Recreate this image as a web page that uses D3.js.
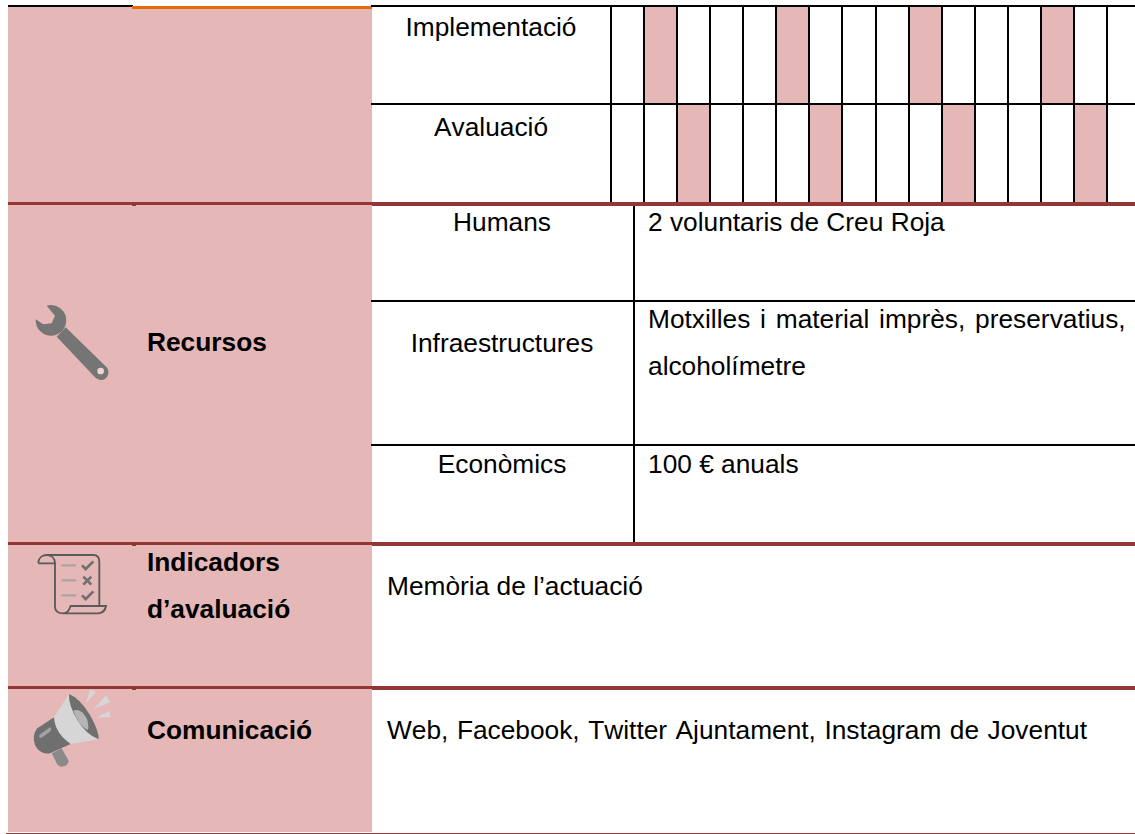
<!DOCTYPE html>
<html>
<head>
<meta charset="utf-8">
<script src="https://cdn.jsdelivr.net/npm/d3@7"></script>
<style>
  html, body { margin: 0; padding: 0; background: #fff; }
  svg { display: block; }
  text { font-family: "Liberation Sans", Arial, sans-serif; fill: #000; font-kerning: none; }
</style>
</head>
<body>
<svg width="1135" height="834"></svg>
<script>
var svg = d3.select("svg");

// schedule rows, numbers are the 0-based index of the column filled in
var scheduleRows = ["Implementació", "Avaluació"];
var implementacioCols = [1, 5, 9, 13];
var avaluacioCols = [2, 6, 10, 14];
var columnCount = 16;

var sectionLabels = ["Recursos", "Indicadors", "d’avaluació", "Comunicació"];
var resourceLabels = ["Humans", "Infraestructures", "Econòmics"];
var resourceTexts = ["2 voluntaris de Creu Roja", "Motxilles i material imprès, preservatius,", "alcoholímetre", "100 € anuals"];
var indicatorText = "Memòria de l’actuació";
var commsText = "Web, Facebook, Twitter Ajuntament, Instagram de Joventut";

var pink = "#e5b8b7", maroon = "#943634", orange = "#e36c0a", iconGrey = "#757575";

// one schedule column is ~33px wide, starting at the first vertical line
var x = d3.scaleLinear().domain([0, 15]).range([611, 1107]);
var rowY = d3.scaleOrdinal().domain(scheduleRows).range([[6, 104], [104, 203]]);

// left pink block
svg.append("rect").attr("x", 8).attr("y", 6).attr("width", 364).attr("height", 826).attr("fill", pink);

// schedule fills
function drawFills(row, cols) {
  svg.selectAll(null)
    .data(cols)
    .enter().append("rect")
    .attr("x", function(d) { return x(d); })
    .attr("y", rowY(row)[0])
    .attr("width", function(d) { return x(d + 1) - x(d); })
    .attr("height", rowY(row)[1] - rowY(row)[0])
    .attr("fill", pink);
}
drawFills(scheduleRows[0], implementacioCols);
drawFills(scheduleRows[1], avaluacioCols);

// black grid of the schedule
svg.selectAll(null)
  .data(d3.range(columnCount))
  .enter().append("line")
  .attr("x1", function(d) { return Math.round(x(d)); })
  .attr("x2", function(d) { return Math.round(x(d)); })
  .attr("y1", 6).attr("y2", 203)
  .attr("stroke", "#000").attr("stroke-width", 2);

function hLine(x1, x2, y, color, w) {
  svg.append("line").attr("x1", x1).attr("x2", x2).attr("y1", y).attr("y2", y)
    .attr("stroke", color).attr("stroke-width", w);
}
hLine(8, 133, 6, "#000", 2);
hLine(132, 372, 7.5, orange, 3);
hLine(371, 1135, 6, "#000", 2);
hLine(371, 1135, 104, "#000", 2);
hLine(371, 1135, 301, "#000", 2);
hLine(371, 1135, 445, "#000", 2);

// resource table divider
svg.append("line").attr("x1", 634).attr("x2", 634).attr("y1", 205).attr("y2", 543)
  .attr("stroke", "#000").attr("stroke-width", 2);

// maroon section rules, thinner over the pink block
[202, 542, 686].forEach(function(y) {
  hLine(8, 372, y + 1.5, maroon, 3);
  hLine(372, 1135, y + 2, maroon, 4);
  svg.append("rect").attr("x", 132).attr("y", y + 3).attr("width", 4).attr("height", 1).attr("fill", maroon);
});
hLine(6, 1135, 833.5, maroon, 1);

function label(t, xp, yp, anchor, bold) {
  return svg.append("text").attr("x", xp).attr("y", yp).attr("text-anchor", anchor)
    .attr("font-size", 26.3).attr("font-weight", bold ? "bold" : "normal").text(t);
}
label(scheduleRows[0], 491, 35.5, "middle");
label(scheduleRows[1], 491, 135.5, "middle");
label(resourceLabels[0], 502, 231, "middle");
label(resourceLabels[1], 502, 352, "middle");
label(resourceLabels[2], 502, 473, "middle");
label(resourceTexts[0], 648, 231, "start");
label(resourceTexts[1], 648, 328, "start").style("word-spacing", "2.5px"); // justified in the original
label(resourceTexts[2], 648, 375, "start");
label(resourceTexts[3], 648, 473, "start");
label(sectionLabels[0], 147, 351, "start", true);
label(sectionLabels[1], 147, 571, "start", true);
label(sectionLabels[2], 147, 618, "start", true);
label(sectionLabels[3], 147, 739, "start", true);
label(indicatorText, 387, 595, "start");
label(commsText, 387, 739, "start").style("word-spacing", "1.2px");

// icons, drawn in 3x zoom pixels
var wrench = svg.append("g").attr("transform", "translate(0,290) scale(0.3333)");
wrench.append("path").attr("fill", iconGrey)
  .attr("d", "M140,47 A46,46 0 1 1 107,88 L130,103 L155,100 L165,77 Z");
wrench.append("path").attr("fill", iconGrey)
  .attr("d", "M197,112 L320,232 A23,23 0 0 1 285,262 L170,140 Z");
wrench.append("circle").attr("cx", 302).attr("cy", 243).attr("r", 10).attr("fill", "#eed5d4");

var scroll = svg.append("g").attr("transform", "translate(0,530) scale(0.3333)")
  .attr("fill", "none").attr("stroke", "#5a5a5a").attr("stroke-width", 5.5);
scroll.append("path").attr("d", "M115,100 C115,85 125,75 140,75 L280,75 Q298,75 298,95 L298,228");
scroll.append("path").attr("d", "M115,100 L165,100 C165,85 155,75 140,75");
scroll.append("path").attr("d", "M165,100 L165,230 C165,245 175,250 190,250 L295,250 Q315,248 318,228 L212,228 C208,240 200,250 190,250");
scroll.append("path").attr("stroke", "#a9a5a5").attr("stroke-width", 7)
  .attr("d", "M184,106 H228 M184,151 H228 M184,196 H228");
scroll.append("path").attr("stroke", "#6f6f6f").attr("stroke-width", 8)
  .attr("d", "M246,106 L257,117 L280,94 M250,140 L274,164 M274,140 L250,164 M246,196 L257,207 L280,184");

var horn = svg.append("g").attr("transform", "translate(0,670) scale(0.3333)");
horn.append("path").attr("fill", "#8a8a8a").attr("d", "M155,250 L185,235 L206,272 Q205,288 185,290 Q175,290 170,280 Z");
horn.append("path").attr("fill", "#6f6f6f").attr("d", "M162,142 L112,175 Q95,195 105,225 Q120,255 150,250 L212,222 Z");
horn.append("path").attr("fill", "#a3a3a3").attr("d", "M118,195 L150,172 Q157,178 150,185 L125,203 Q115,204 118,195 Z");
horn.append("path").attr("fill", "#d6d6d6").attr("d", "M207,72 L162,142 Q165,190 212,222 L296,208 Z");
horn.append("path").attr("fill", "#707070").attr("d", "M207,72 Q240,85 270,135 Q298,185 296,208 Q260,195 232,150 Q205,105 207,72 Z");
horn.append("path").attr("fill", "#b5b5b5").attr("d", "M220,122 Q245,112 262,150 Q268,175 262,180 Q235,165 220,122 Z");
horn.append("path").attr("fill", "#d6d6d6").attr("d", "M270,58 L288,66 L258,100 Z M318,76 L331,97 L282,117 Z M328,124 L332,142 L288,142 Z");
</script>
</body>
</html>
